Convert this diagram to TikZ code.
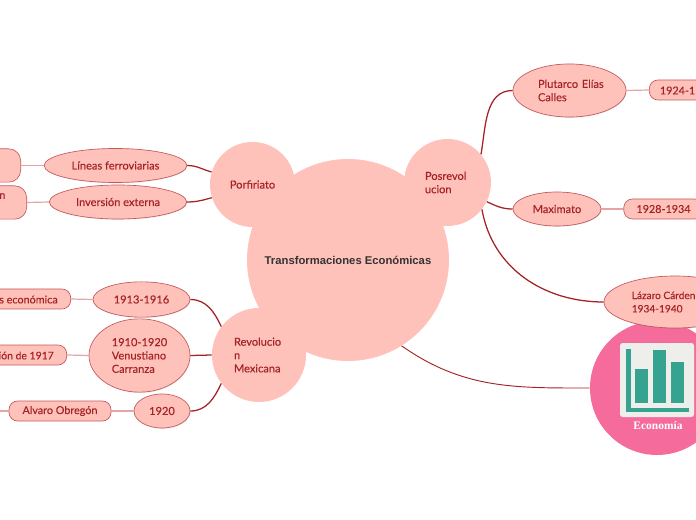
\documentclass[tikz,border=0pt]{standalone}
\usepackage{fontspec}
\setmainfont{Lato}[RawFeature={embolden=0.2}]
\newfontfamily\titlefont{Liberation Sans}
\newfontfamily\iconfont{Liberation Serif}
\usetikzlibrary{shapes.geometric,shadows,calc}
\definecolor{rosa}{HTML}{FFC2BA}
\definecolor{vino}{HTML}{A52226}
\definecolor{borde}{HTML}{C2585C}
\definecolor{palido}{HTML}{E2A6A6}
\definecolor{fucsia}{HTML}{F56C9C}
\definecolor{verde}{HTML}{35A38F}
\definecolor{hoja}{HTML}{EEEFEA}
\tikzset{
  topicnode/.style={circle,fill=rosa,inner sep=0pt,text=vino,font=\fontsize{8.3}{10}\selectfont},
  branchnode/.style={ellipse,draw=borde,line width=0.5pt,fill=rosa,inner sep=0pt,text=vino,
    font=\fontsize{8.3}{10}\selectfont,drop shadow={opacity=0.18,shadow xshift=0.4pt,shadow yshift=-0.6pt}},
  leafnode/.style={rectangle,rounded corners=6.5pt,draw=borde,line width=0.5pt,fill=rosa,text=vino,
    minimum height=15pt,inner xsep=9.5pt,inner ysep=0pt,font=\fontsize{8.1}{10}\selectfont},
  leaftext/.style={inner sep=0pt,text=vino,font=\fontsize{8.1}{10}\selectfont},
  strong/.style={draw=vino,line width=0.95pt},
  weak/.style={draw=palido,line width=0.9pt},
  axisbar/.style={fill=verde,draw=none}
}
\begin{document}
\begin{tikzpicture}[x=0.75pt,y=-0.75pt]
        \useasboundingbox (0,0) rectangle (696,520);
        \clip (0,0) rectangle (696,520);
        \node[topicnode,minimum size=151.5pt] (main) at (348,260) {};
        \node[topicnode,minimum size=63.8pt] (porfiriato) at (252.5,184.5) {Porfiriato};
        \node[topicnode,minimum size=65.2pt,align=left,text width=33.75pt] (posrev) at (447.5,182.5) {Posrevol\\ucion};
        \node[topicnode,minimum size=70.5pt,align=left,text width=37.5pt] (revolucion) at (259,355) {\mbox{Revolucio}\\n\\Mexicana};
        \node[text=black!80,font=\titlefont\bfseries\fontsize{8.45}{11}\selectfont] (titulo) at (348,260) {Transformaciones Económicas};

        \node[branchnode,minimum width=107pt,minimum height=25.5pt] (lineas) at (115.5,165.5) {Líneas ferroviarias};
        \node[branchnode,minimum width=103pt,minimum height=25.5pt] (inversion) at (118,202) {Inversión externa};
        \node[leafnode,rounded corners=9pt,minimum height=25pt,minimum width=60pt,anchor=east] (lineasleaf) at (21,165.5) {};
        \node[leafnode,rounded corners=9pt,minimum height=25pt,minimum width=60pt,anchor=east] (inversionleaf) at (27,202.5) {};
        \node[leaftext,anchor=west] (inversiontext) at (-1,196) {n};

        \node[branchnode,minimum width=72.8pt,minimum height=26.5pt] (y1913) at (141.5,299.5) {1913-1916};
        \node[branchnode,minimum width=75.8pt,minimum height=55pt,align=left] (y1910) at (139.5,355.5) {1910-1920\\Venustiano\\Carranza};
        \node[branchnode,minimum width=42pt,minimum height=25.5pt] (y1920) at (162,411) {1920};
        \node[leafnode,anchor=east,minimum width=90pt] (crisis) at (71,299) {};
        \node[leaftext,anchor=east] (crisistext) at (58,299.5) {s económica};
        \node[leafnode,anchor=east,minimum width=90pt] (constitucion) at (67,355) {};
        \node[leaftext,anchor=east,font=\fontsize{7.8}{10}\selectfont] (constituciontext) at (54,355.5) {ión de 1917};
        \node[leafnode,minimum width=76.5pt] (obregon) at (60,411) {Alvaro Obregón};
        \coordinate (bordeizq) at (0,411);

        \node[branchnode,minimum width=84.8pt,minimum height=39.8pt,align=left,text width=47.25pt] (calles) at (569.5,90.5) {\mbox{Plutarco Elías}\\Calles};
        \node[leafnode,anchor=west,minimum width=60pt] (y1924) at (649,90) {};
        \node[leaftext,anchor=east] (y1924text) at (695.5,90.5) {1924-1};
        \node[branchnode,minimum width=66pt,minimum height=25.5pt] (maximato) at (557,209) {Maximato};
        \node[leafnode] (y1928) at (663.5,209) {1928-1934};

        \node[circle,fill=fucsia,minimum size=100.5pt,inner sep=0pt] (economia) at (657,388) {};
        \node[branchnode,minimum width=106.5pt,minimum height=39pt] (cardenas) at (675,302) {};
        \node[leaftext,align=left,anchor=west,font=\fontsize{7.6}{10}\selectfont] (cardenastext) at (631.5,302) {Lázaro Cárden\\1934-1940};

        \fill[hoja,rounded corners=2pt] (620,343) rectangle (694,417);
        \fill[axisbar] (626,349) rectangle (631,412);
        \fill[axisbar] (626,408) rectangle (689,412);
        \fill[axisbar] (635,369) rectangle (648,403);
        \fill[axisbar] (653,350) rectangle (666,403);
        \fill[axisbar] (671,362) rectangle (684,403);
        \node[text=white,font=\iconfont\bfseries\fontsize{8.6}{10}\selectfont] (economialabel) at (658,426) {Economía};

        \draw[strong] (lineas.east) to[out=0,in=165] (porfiriato.163);
        \draw[strong] (inversion.east) to[out=0,in=195] (porfiriato.198);
        \draw[strong] (y1913.east) to[out=0,in=115] (revolucion.143);
        \draw[strong] (y1910.east) -- (revolucion.west);
        \draw[strong] (y1920.east) to[out=0,in=245] (revolucion.217);
        \draw[strong] (posrev.40) to[out=80,in=180] (calles.west);
        \draw[strong] (posrev.-26) to[out=-25,in=180] (maximato.west);
        \draw[strong] (posrev.-38) to[out=-80,in=180] (cardenas.west);
        \draw[vino,line width=0.7pt] (main.-58) to[out=-35,in=180] (economia.west);

        \draw[weak] (lineasleaf.east) -- (lineas.west);
        \draw[weak] (inversionleaf.east) -- (inversion.west);
        \draw[weak] (crisis.east) -- (y1913.west);
        \draw[weak] (constitucion.east) -- (y1910.west);
        \draw[weak] (obregon.east) -- (y1920.west);
        \draw[weak] (bordeizq) -- (obregon.west);
        \draw[weak] (calles.east) -- (y1924.west);
        \draw[weak] (maximato.east) -- (y1928.west);
      \end{tikzpicture}
\end{document}
